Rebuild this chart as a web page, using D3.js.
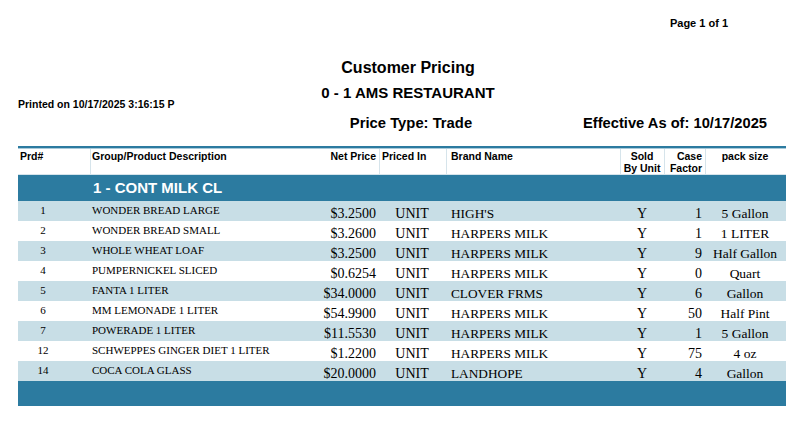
<!DOCTYPE html>
<html>
<head>
<meta charset="utf-8">
<script src="https://cdn.jsdelivr.net/npm/d3@7/dist/d3.min.js"></script>
<style>
  body { margin: 0; background: #fff; }
  svg { display: block; }
</style>
</head>
<body>
<div id="container"></div>
<script>
var prdNums = ['1', '2', '3', '4', '5', '6', '7', '12', '14'],
    descriptions = ['WONDER BREAD LARGE', 'WONDER BREAD SMALL', 'WHOLE WHEAT LOAF', 'PUMPERNICKEL SLICED',
      'FANTA 1 LITER', 'MM LEMONADE 1 LITER', 'POWERADE 1 LITER', 'SCHWEPPES GINGER DIET 1 LITER', 'COCA COLA GLASS'],
    netPrices = [3.25, 3.26, 3.25, 0.6254, 34.0, 54.99, 11.553, 1.22, 20.0],
    pricedIn = ['UNIT', 'UNIT', 'UNIT', 'UNIT', 'UNIT', 'UNIT', 'UNIT', 'UNIT', 'UNIT'],
    brands = ["HIGH'S", 'HARPERS MILK', 'HARPERS MILK', 'HARPERS MILK', 'CLOVER FRMS',
      'HARPERS MILK', 'HARPERS MILK', 'HARPERS MILK', 'LANDHOPE'],
    soldByUnit = ['Y', 'Y', 'Y', 'Y', 'Y', 'Y', 'Y', 'Y', 'Y'],
    caseFactors = [1, 1, 9, 0, 6, 50, 1, 75, 4],
    packSizes = ['5 Gallon', '1 LITER', 'Half Gallon', 'Quart', 'Gallon', 'Half Pint', '5 Gallon', '4 oz', 'Gallon'],
    headers = [['Prd#'], ['Group/Product Description'], ['Net Price'], ['Priced In'], ['Brand Name'],
      ['Sold', 'By Unit'], ['Case', 'Factor'], ['pack size']],
    groupName = '1 - CONT MILK CL';

var width = 807,
    height = 441,
    left = 18,
    right = 786,
    dark = '#2C7BA0',
    light = '#C8DEE6',
    sepColor = '#D6E4EB',
    serif = '"Liberation Serif", "Times New Roman", serif',
    sans = '"Liberation Sans", Arial, sans-serif',
    colEdges = [18, 90, 379, 446, 620, 664, 705, 786],
    fmtPrice = function (v) { return '$' + v.toFixed(4); };

var rowY = d3.scaleBand()
  .domain(d3.range(prdNums.length))
  .range([201, 381]);

var svg = d3.select('#container').append('svg')
  .attr('width', width)
  .attr('height', height);

svg.append('rect')
  .attr('width', width)
  .attr('height', height)
  .attr('fill', '#fff');

// page titles
function label(x, y, text, size, anchor, weight, family) {
  return svg.append('text')
    .attr('x', x)
    .attr('y', y)
    .attr('text-anchor', anchor || 'start')
    .attr('font-family', family || sans)
    .attr('font-weight', weight || 'bold')
    .attr('font-size', size)
    .attr('fill', '#000')
    .text(text);
}

label(728, 27, 'Page 1 of 1', 11, 'end');
label(408, 73, 'Customer Pricing', 16, 'middle');
label(408, 98, '0 - 1 AMS RESTAURANT', 15, 'middle');
label(18, 108, 'Printed on 10/17/2025 3:16:15 P', 10.5);
label(411, 128, 'Price Type: Trade', 14.8, 'middle');
label(767, 128, 'Effective As of: 10/17/2025', 14.7, 'end');

// header band
svg.append('rect')
  .attr('x', left).attr('y', 146)
  .attr('width', right - left).attr('height', 2)
  .attr('fill', dark);
svg.append('rect')
  .attr('x', left).attr('y', 148)
  .attr('width', right - left).attr('height', 1)
  .attr('fill', '#A9CADA');
svg.append('rect')
  .attr('x', left).attr('y', 174)
  .attr('width', right - left).attr('height', 1)
  .attr('fill', sepColor);

svg.selectAll('line.sep')
  .data(colEdges.slice(1, -1))
  .enter()
  .append('line')
  .attr('class', 'sep')
  .attr('x1', function (d) { return d + 0.5; })
  .attr('x2', function (d) { return d + 0.5; })
  .attr('y1', 149)
  .attr('y2', 175)
  .attr('stroke', sepColor)
  .attr('stroke-width', 1);

var headerPos = [
  {x: 20, anchor: 'start'},
  {x: 92, anchor: 'start'},
  {x: 376, anchor: 'end'},
  {x: 382, anchor: 'start'},
  {x: 451, anchor: 'start'},
  {x: 642, anchor: 'middle'},
  {x: 702, anchor: 'end'},
  {x: 745, anchor: 'middle'}
];

headers.forEach(function (lines, i) {
  var t = svg.append('text')
    .attr('x', headerPos[i].x)
    .attr('y', 160)
    .attr('text-anchor', headerPos[i].anchor)
    .attr('font-family', sans)
    .attr('font-weight', 'bold')
    .attr('font-size', 10.5)
    .attr('fill', '#000');
  lines.forEach(function (line, j) {
    t.append('tspan')
      .attr('x', headerPos[i].x)
      .attr('dy', j === 0 ? 0 : 12)
      .text(line);
  });
});

// group band
svg.append('rect')
  .attr('x', left).attr('y', 175)
  .attr('width', right - left).attr('height', 26)
  .attr('fill', dark);
label(93, 193, groupName, 15).attr('fill', '#fff');

// data rows
var rows = svg.selectAll('g.row')
  .data(prdNums)
  .enter()
  .append('g')
  .attr('class', 'row')
  .attr('transform', function (d, i) { return 'translate(0,' + rowY(i) + ')'; });

rows.append('rect')
  .attr('x', left)
  .attr('width', right - left)
  .attr('height', rowY.bandwidth())
  .attr('fill', function (d, i) { return i % 2 === 0 ? light : '#fff'; });

function cell(sel, x, y, anchor, size, fn) {
  sel.append('text')
    .attr('x', x)
    .attr('y', y)
    .attr('text-anchor', anchor)
    .attr('font-family', serif)
    .attr('font-size', size)
    .attr('fill', '#000')
    .text(fn);
}

cell(rows, 43, 13, 'middle', 11, function (d) { return d; });
cell(rows, 92, 13, 'start', 11, function (d, i) { return descriptions[i]; });
cell(rows, 376, 16.5, 'end', 14, function (d, i) { return fmtPrice(netPrices[i]); });
cell(rows, 412, 16.5, 'middle', 14, function (d, i) { return pricedIn[i]; });
cell(rows, 451, 16.5, 'start', 13.3, function (d, i) { return brands[i]; });
cell(rows, 642, 16.5, 'middle', 14, function (d, i) { return soldByUnit[i]; });
cell(rows, 702, 16.5, 'end', 14, function (d, i) { return caseFactors[i]; });
cell(rows, 745, 16.5, 'middle', 13.5, function (d, i) { return packSizes[i]; });

// footer band
svg.append('rect')
  .attr('x', left).attr('y', rowY.range()[1])
  .attr('width', right - left).attr('height', 25)
  .attr('fill', dark);
</script>
</body>
</html>
